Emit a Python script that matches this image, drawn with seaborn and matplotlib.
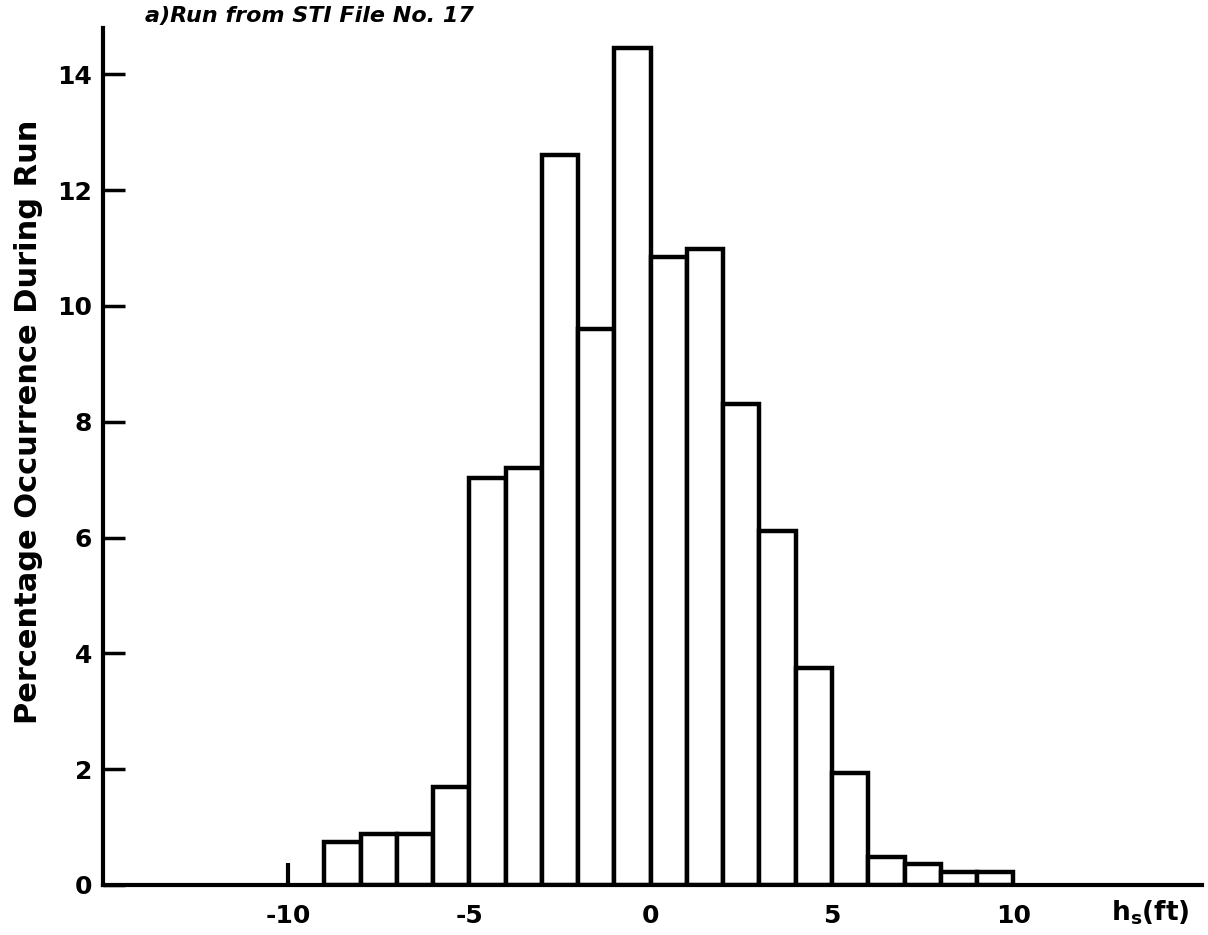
import numpy as np
import matplotlib
matplotlib.use("Agg")
import matplotlib.pyplot as plt
import seaborn as sns

# histogram bins (ft) and percentage occurrence
bin_edges = [-9, -8, -7, -6, -5, -4, -3, -2, -1, 0, 1, 2, 3, 4, 5, 6, 7, 8, 9, 10]
pct = [0.74, 0.88, 0.88, 1.70, 7.03, 7.20, 12.60, 9.60, 14.45, 10.85,
       10.98, 8.31, 6.12, 3.75, 1.93, 0.48, 0.36, 0.22, 0.22]
bin_centers = [e + 0.5 for e in bin_edges[:-1]]
x_ticks = [-10, -5, 0, 5, 10]
y_ticks = [0, 2, 4, 6, 8, 10, 12, 14]

sns.set_style("white")
plt.rcParams["font.family"] = ["DejaVu Sans"]
plt.rcParams["font.weight"] = "bold"
plt.rcParams["mathtext.fontset"] = "dejavusans"
for k in ["text.color", "axes.labelcolor", "xtick.color", "ytick.color"]:
    plt.rcParams[k] = "black"

fig = plt.figure(figsize=(12.08, 9.35), dpi=100)
ax = fig.add_axes([0.0853, 0.0535, 0.9097, 0.9165])

sns.histplot(x=bin_centers, weights=pct, bins=bin_edges, color="white",
             edgecolor="black", linewidth=3.2, alpha=1, ax=ax)
# lone marker at -10
ax.vlines(-10, 0, 0.38, color="black", linewidth=3)

ax.set_xlim(-15.1, 15.2)
ax.set_ylim(0, 14.8)
sns.despine(ax=ax)
for s in ["left", "bottom"]:
    ax.spines[s].set_linewidth(3)
    ax.spines[s].set_color("black")

ax.set_xticks(x_ticks)
ax.set_xticklabels([str(t) for t in x_ticks])
ax.set_yticks(y_ticks)
ax.tick_params(axis="x", length=0, pad=14, labelsize=18)
ax.tick_params(axis="y", direction="in", length=16, width=2.5, pad=8,
               labelsize=18, left=True)

ax.set_xlabel("")
ax.set_ylabel("Percentage Occurrence During Run", fontsize=22, fontweight="bold")
ax.yaxis.set_label_coords(-0.055, 0.54)
ax.text(0.953, -0.032, r"$\mathbf{h_s(ft)}$", transform=ax.transAxes,
        ha="center", va="center", fontsize=19)

fig.text(145 / 1208, 1 - 16 / 935, "a)Run from STI File No. 17",
         ha="left", va="center", fontsize=16, fontweight="bold",
         fontstyle="italic")

fig.savefig("out.png", dpi=100)
plt.close(fig)
